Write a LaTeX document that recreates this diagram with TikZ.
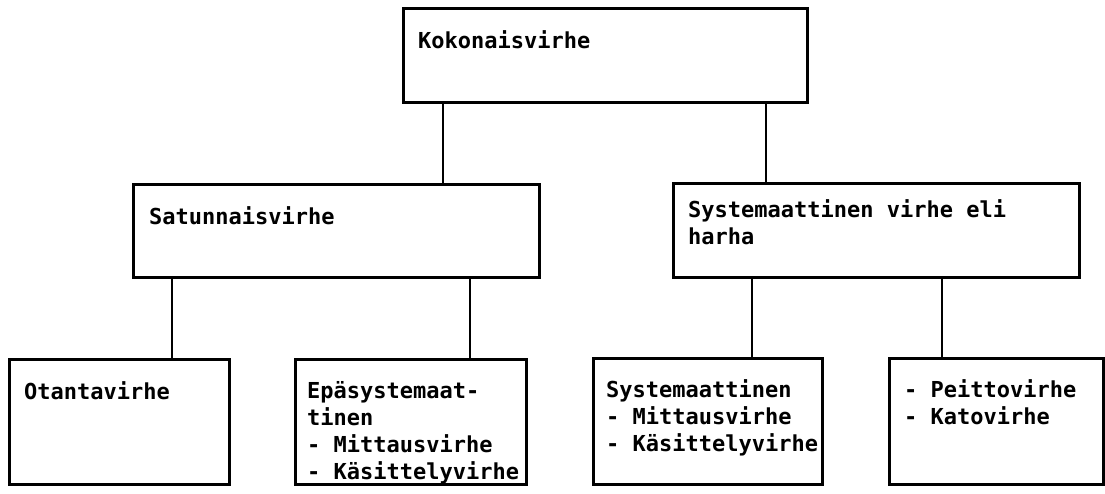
\documentclass[tikz,border=0pt]{standalone}
\usepackage{fontspec}
\setmonofont{DejaVu Sans Mono}
\usetikzlibrary{positioning}

\begin{document}
\begin{tikzpicture}[x=1pt,y=-1pt,
 box/.style={draw,line width=2.8pt,inner sep=0pt,anchor=north west},
 txt/.style={anchor=north west,inner sep=0pt,align=left,yshift=18.9pt,
  font=\ttfamily\bfseries\fontsize{22}{27}\selectfont,
  execute at begin node=\strut},
 link/.style={line width=2.8pt}]

  \useasboundingbox (0,0) rectangle (1105,493);

  % boxes
  \node[box,minimum width=404pt,minimum height=94pt] (kok) at (402,7) {};
  \node[box,minimum width=406pt,minimum height=93pt] (sat) at (132,183) {};
  \node[box,minimum width=406pt,minimum height=94pt] (sys) at (672,182) {};
  \node[box,minimum width=220pt,minimum height=125pt] (ota) at (8,358) {};
  \node[box,minimum width=231pt,minimum height=125pt] (epa) at (294,358) {};
  \node[box,minimum width=229pt,minimum height=126pt] (sysm) at (592,357) {};
  \node[box,minimum width=214pt,minimum height=126pt] (peit) at (888,357) {};

  % texts (at the first baseline)
  \node[txt] (kokt) at ([shift={(16pt,-41pt)}]kok.north west) {Kokonaisvirhe};
  \node[txt] (satt) at ([shift={(17pt,-41pt)}]sat.north west) {Satunnaisvirhe};
  \node[txt] (syst) at ([shift={(16pt,-36pt)}]sys.north west)
   {Systemaattinen virhe eli\\harha};
  \node[txt] (otat) at ([shift={(16pt,-41pt)}]ota.north west) {Otantavirhe};
  \node[txt] (epat) at ([shift={(13pt,-42pt)}]epa.north west)
   {Epäsystemaat-\\tinen\\- Mittausvirhe\\- Käsittelyvirhe};
  \node[txt] (sysmt) at ([shift={(14pt,-41pt)}]sysm.north west)
   {Systemaattinen\\- Mittausvirhe\\- Käsittelyvirhe};
  \node[txt] (peitt) at ([shift={(16pt,-41pt)}]peit.north west)
   {- Peittovirhe\\- Katovirhe};

  % connectors
  \foreach \P/\C/\D in {kok/sat/41,kok/sys/364,sat/ota/40,sat/epa/338,
    sys/sysm/80,sys/peit/270}
  {\draw[link] ([xshift=\D pt]\P.south west) coordinate(aux)
    -- (aux|-\C.north);
  }

\end{tikzpicture}
\end{document}
